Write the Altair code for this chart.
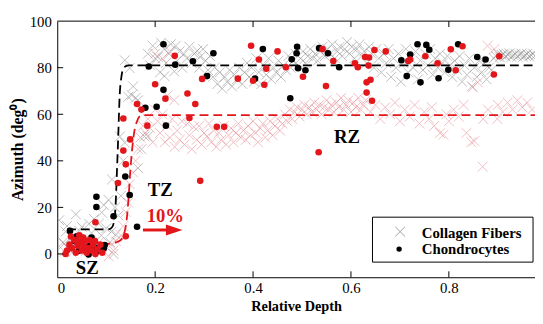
import altair as alt
import pandas as pd

FONT = "Liberation Serif"
RED = "#e3161b"
GRAY = "#8c8c8c"
PINK = "#e0707c"
CROSS = "M-1,-1L1,1M-1,1L1,-1"

# ---------------- data ----------------
# Collagen fibers, group 1 (gray crosses)
gray_x = [0.004, 0.012, 0.014, 0.017, 0.02, 0.025, 0.03, 0.038, 0.045, 0.05, 0.055, 0.058,
          0.065, 0.07, 0.075, 0.08, 0.085, 0.09, 0.091, 0.1, 0.105, 0.108, 0.111, 0.115,
          0.12, 0.125, 0.118, 0.095,
          0.112, 0.128, 0.138, 0.135, 0.145, 0.152, 0.16, 0.165, 0.148, 0.138, 0.155, 0.165,
          0.172, 0.178, 0.13, 0.185,
          0.185, 0.19, 0.195, 0.2, 0.205, 0.21, 0.212, 0.219, 0.219, 0.222, 0.228, 0.232,
          0.239, 0.242, 0.245, 0.25, 0.255, 0.259, 0.265, 0.27, 0.275, 0.28, 0.286, 0.29,
          0.292, 0.298, 0.303, 0.308, 0.312, 0.318, 0.322, 0.327, 0.332, 0.337, 0.342, 0.347,
          0.352, 0.357, 0.362, 0.367, 0.372, 0.378, 0.383, 0.388, 0.392, 0.397, 0.402, 0.407,
          0.412, 0.417, 0.422, 0.427, 0.432, 0.437, 0.442, 0.447, 0.452, 0.457, 0.462, 0.467,
          0.472, 0.477, 0.482, 0.487, 0.492, 0.497, 0.502, 0.507, 0.512, 0.517, 0.522, 0.527,
          0.532, 0.537, 0.542, 0.547, 0.552, 0.557, 0.562, 0.567, 0.572, 0.577, 0.582, 0.587,
          0.592, 0.597, 0.602, 0.607, 0.612, 0.617, 0.622, 0.627, 0.632, 0.637, 0.642, 0.647,
          0.652, 0.657, 0.662, 0.667, 0.672, 0.677, 0.682, 0.687, 0.692, 0.697, 0.702, 0.707,
          0.712, 0.717, 0.722, 0.727, 0.732, 0.737, 0.742, 0.747, 0.752, 0.757, 0.762, 0.767,
          0.772, 0.777, 0.782, 0.787, 0.792, 0.797, 0.802, 0.807, 0.812, 0.817, 0.822, 0.827,
          0.832, 0.837, 0.842, 0.847, 0.852, 0.857, 0.862, 0.867, 0.872, 0.877, 0.882, 0.887,
          0.892, 0.896, 0.9, 0.904, 0.908, 0.912, 0.916, 0.92, 0.924, 0.928, 0.932, 0.936,
          0.94, 0.944, 0.948, 0.952, 0.956, 0.96, 0.964, 0.968, 0.972, 0.976]
gray_y = [14.5, 5, 4.3, 9.6, 12, 2, 7, 17, 10, 11.7, 6, 1.4,
          13, 9, 15, 3, 13, 8, 17.8, 11, 23.2, 5, 9.6, 0,
          8.4, 16.5, 20, 21,
          32, 50.5, 47.8, 40, 67.5, 68.2, 67, 66, 79.8, 83.2, 72, 36.9,
          45, 50.5, 25, 50.5,
          86, 81, 89.4, 84, 84.6, 78, 90.7, 88, 76.4, 82, 86, 90.1,
          78.4, 89.4, 83, 87, 80, 86, 84, 89, 82, 86, 87.3, 80,
          84.6, 88, 83, 79, 85, 76, 80, 73, 78, 71, 76, 74,
          79, 72, 77, 75, 80, 73, 78, 82, 76, 80, 74, 84,
          78, 73, 81, 77, 84, 75, 80, 78, 83, 76, 81, 79,
          85, 80, 83, 86, 81, 84, 87, 82, 85, 88, 84, 86,
          83, 87, 89, 85, 88, 86, 90, 84, 87, 89, 85, 88,
          91, 86, 89, 84, 88, 90, 85, 87, 82, 89, 86, 80,
          88, 84, 78, 86, 82, 88, 76, 84, 80, 86, 74, 82,
          88, 78, 84, 80, 87, 75, 83, 79, 86, 81, 88, 77,
          84, 80, 86, 82, 78, 85, 81, 76, 83, 79, 85, 74,
          81, 77, 84, 72, 80, 76, 83, 78, 82, 75, 80, 79,
          84, 85, 86, 84.5, 85.5, 86, 84.8, 85.6, 86.2, 84.6, 85.4, 86,
          84.8, 85.5, 86.1, 84.7, 85.3, 85.9, 84.9, 85.4, 86, 85]

# Collagen fibers, group 2 (light red crosses)
pink_x = [0.015, 0.02, 0.03, 0.035, 0.045, 0.05, 0.06, 0.065, 0.07, 0.075, 0.085, 0.09,
          0.1, 0.105, 0.11, 0.115, 0.12,
          0.13, 0.135, 0.14, 0.145, 0.148, 0.155, 0.16, 0.165, 0.17, 0.175, 0.18, 0.185,
          0.19, 0.2, 0.195, 0.2, 0.215, 0.23, 0.225, 0.239,
          0.205, 0.21, 0.215, 0.22, 0.225, 0.23, 0.235, 0.24, 0.245, 0.25, 0.255, 0.26,
          0.266, 0.27, 0.275, 0.279, 0.285, 0.29, 0.295, 0.3, 0.306, 0.31, 0.315, 0.32,
          0.325, 0.33, 0.335, 0.34, 0.345, 0.35, 0.355, 0.36, 0.365, 0.37, 0.375, 0.38,
          0.385, 0.39, 0.395, 0.4, 0.405, 0.41, 0.415, 0.42, 0.425, 0.43, 0.435, 0.44,
          0.445, 0.45, 0.455, 0.46, 0.465, 0.47, 0.475, 0.48, 0.485, 0.49, 0.495, 0.5,
          0.505, 0.51, 0.515, 0.52, 0.525, 0.53, 0.535, 0.54, 0.545, 0.55, 0.555, 0.56,
          0.565, 0.57, 0.575, 0.58, 0.585, 0.59, 0.595, 0.6, 0.605, 0.61, 0.615, 0.62,
          0.625, 0.63, 0.64, 0.65, 0.66, 0.67, 0.68, 0.69, 0.7, 0.71, 0.72, 0.73,
          0.74, 0.75, 0.76, 0.765, 0.77, 0.782, 0.789, 0.795, 0.8, 0.81, 0.82, 0.83,
          0.836, 0.846, 0.852, 0.849, 0.859, 0.869, 0.87, 0.879, 0.88, 0.893, 0.899, 0.9,
          0.91, 0.92, 0.93, 0.94, 0.95, 0.96, 0.97]
pink_y = [1, 3, 0.5, 4, 2, 5, 1.5, 3.5, 0, 2.5, 5, 1,
          3, -1, 4, 1.5, 5.5,
          8, 12, 18, 22, 30, 35, 40, 45, 50, 55, 52, 58,
          54, 62, 48, 86, 84, 87, 68, 66,
          57, 52, 60, 48, 55, 50, 58, 46, 53, 49, 57, 47,
          56, 51, 45, 54.6, 49, 55, 47, 51.9, 50.5, 56, 48, 53,
          46, 52, 49, 55, 47, 51, 54, 48, 52, 56, 50, 53,
          49, 55, 51, 57, 52, 48, 54, 56, 50, 53, 57, 51,
          55, 58, 53, 56, 60, 57, 62, 58, 61, 63, 59, 62,
          64, 60, 63, 61, 65, 62, 64, 60, 63, 66, 62, 64,
          61, 65, 63, 67, 62, 64, 66, 61, 65, 63, 67, 62,
          64, 66, 61, 64, 58, 63, 60, 65, 57, 62, 59, 64,
          56, 61, 58, 63, 55, 51.9, 51.2, 60, 57, 62, 59, 64,
          52, 48, 48.5, 71.6, 73.7, 37.5, 58, 89.4, 62, 88, 58, 64,
          61, 65, 62, 66, 63, 65, 62]

# Chondrocytes, group 1 (black dots)
black_x = [0.026, 0.040, 0.066, 0.078, 0.097, 0.095, 0.084, 0.064, 0.044, 0.070, 0.036, 0.073,
           0.080, 0.080, 0.115, 0.163, 0.148, 0.139,
           0.217, 0.319, 0.187, 0.241, 0.277, 0.306, 0.217, 0.180, 0.203, 0.222,
           0.420, 0.490, 0.489, 0.479, 0.535, 0.553, 0.492, 0.507, 0.576, 0.404, 0.476,
           0.736, 0.754, 0.760, 0.819, 0.721, 0.703, 0.858, 0.875, 0.799, 0.714, 0.742, 0.779]
black_y = [9.9, 7.6, 4.4, 2.5, 3.8, 2.4, 1.4, -0.2, 1.4, 7.0, 5.5, 3.9,
           24.6, 20.2, 16.2, 11.7, 25.3, 33.3,
           90.1, 86.2, 80.5, 81.3, 82.8, 76.4, 70.5, 62.8, 63.2, 55.1,
           88.0, 89.0, 86.2, 83.6, 88.4, 86.2, 79.8, 78.9, 80.2, 75.3, 66.9,
           90.1, 89.8, 87.7, 90.1, 85.7, 83.2, 84.6, 83.5, 79.1, 76.4, 73.7, 75.5]

# Chondrocytes, group 2 (red dots)
red_x = [0.017, 0.078, 0.02, 0.025, 0.03, 0.035, 0.038, 0.042, 0.045, 0.048, 0.05, 0.053,
         0.055, 0.058, 0.06, 0.062, 0.066, 0.07, 0.073, 0.077, 0.082, 0.088, 0.092, 0.028, 0.04,
         0.078, 0.14, 0.124, 0.14, 0.135, 0.149, 0.135, 0.163, 0.172, 0.184,
         0.240, 0.296, 0.200, 0.221, 0.266, 0.282, 0.270, 0.326, 0.341, 0.292,
         0.396, 0.450, 0.412, 0.427, 0.467, 0.542, 0.564, 0.369, 0.400, 0.423, 0.502, 0.549,
         0.534, 0.608, 0.614, 0.629, 0.637, 0.636, 0.640, 0.632, 0.632, 0.643, 0.648, 0.671,
         0.717, 0.721, 0.752, 0.777, 0.804, 0.828, 0.814, 0.903, 0.892]
red_y = [0, 0, 1.5, 4, 2.5, 6, 0.5, 3.5, 8, 5, 1.5, 7,
         3, 5.5, 0.5, 2.5, 6, 1.5, 4, 5.5, 2, 4, 0.5, 7.5, 5.5,
         13.6, 7.6, 30.5, 38.5, 44.4, 49.2, 58.2, 64.4, 62.0, 55.1,
         85.1, 75.2, 72.9, 66.7, 68.9, 64.4, 58.4, 54.6, 54.6, 31.4,
         89.4, 87.0, 83.5, 79.6, 80.2, 88.0, 82.9, 75.3, 74.4, 72.7, 76.1, 72.1,
         43.7, 81.9, 80.2, 84.6, 84.4, 80.9, 74.8, 73.7, 69.3, 65.8, 87.6, 87.0,
         82.9, 83.5, 84.9, 81.9, 87.9, 89.2, 78.9, 84.9, 77.1]

# fitted step curves (dashed)
black_fit_x = [0.02, 0.105, 0.112, 0.116, 0.119, 0.1215, 0.1245, 0.1275, 0.131, 0.136, 0.145, 0.976]
black_fit_y = [10.6, 10.6, 11.5, 14, 20, 33, 50, 68, 76, 80, 81, 81]
red_fit_x = [0.09, 0.12, 0.13, 0.137, 0.142, 0.146, 0.149, 0.153, 0.157, 0.163, 0.172, 0.976]
red_fit_y = [4, 5, 6, 9, 15, 25, 35, 45, 52, 57, 59.6, 59.6]

x_ticks = [0, 0.2, 0.4, 0.6, 0.8]
y_ticks = [0, 20, 40, 60, 80, 100]
legend_labels = ["Collagen Fibers", "Chondrocytes"]
zone_labels = ["SZ", "TZ", "RZ"]
shift_label = "10%"

# ---------------- chart ----------------
W, H = 485, 260
xs = alt.Scale(domain=[0, 0.976], nice=False, zero=False)
ys = alt.Scale(domain=[-10, 100], nice=False, zero=False)
xaxis = alt.Axis(values=x_ticks, format="~g", title="Relative Depth", ticks=False, tickSize=0,
                 labelPadding=3, titleY=33.5, titleBaseline="alphabetic", grid=False,
                 domainColor="black", domainWidth=1,
                 labelFont=FONT, labelFontSize=15, labelColor="black",
                 titleFont=FONT, titleFontSize=14.5, titleFontWeight="bold", titleColor="black")
yaxis = alt.Axis(values=y_ticks, format="d", title="Azimuth (deg⁰)", ticks=False, tickSize=0,
                 labelPadding=6, titlePadding=4, grid=False, domainColor="black", domainWidth=1,
                 labelFont=FONT, labelFontSize=15, labelColor="black",
                 titleFont=FONT, titleFontSize=16, titleFontWeight="bold", titleColor="black")


def X(f):
    return alt.X(f, scale=xs, axis=xaxis)


def Y(f):
    return alt.Y(f, scale=ys, axis=yaxis)


gray_df = pd.DataFrame({"x": gray_x, "y": gray_y})
pink_df = pd.DataFrame({"x": pink_x, "y": pink_y})
black_df = pd.DataFrame({"x": black_x, "y": black_y})
red_df = pd.DataFrame({"x": red_x, "y": red_y})
bfit = pd.DataFrame({"x": black_fit_x, "y": black_fit_y, "i": range(len(black_fit_x))})
rfit = pd.DataFrame({"x": red_fit_x, "y": red_fit_y, "i": range(len(red_fit_x))})

gray = alt.Chart(gray_df).mark_point(shape=CROSS, filled=False, size=100, strokeWidth=1,
                                     color=GRAY, opacity=0.55, clip=True).encode(x=X("x:Q"), y=Y("y:Q"))
pink = alt.Chart(pink_df).mark_point(shape=CROSS, filled=False, size=100, strokeWidth=1,
                                     color=PINK, opacity=0.45, clip=True).encode(x=X("x:Q"), y=Y("y:Q"))
bline = alt.Chart(bfit).mark_line(color="black", strokeWidth=1.8, strokeDash=[9, 5],
                                  interpolate="monotone").encode(x=X("x:Q"), y=Y("y:Q"), order="i:Q")
rline = alt.Chart(rfit).mark_line(color=RED, strokeWidth=1.8, strokeDash=[9, 5],
                                  interpolate="monotone").encode(x=X("x:Q"), y=Y("y:Q"), order="i:Q")
bdots = alt.Chart(black_df).mark_circle(size=45, color="black", opacity=1, clip=True).encode(
    x=X("x:Q"), y=Y("y:Q"))
rdots = alt.Chart(red_df).mark_circle(size=45, color=RED, opacity=1, clip=True).encode(
    x=X("x:Q"), y=Y("y:Q"))

# frame: top border and inward ticks
xt = pd.DataFrame({"v": x_ticks[1:]})
yt = pd.DataFrame({"v": y_ticks[:-1]})
one = pd.DataFrame({"v": [0]})
top_line = alt.Chart(one).mark_rule(color="black", strokeWidth=1).encode(
    x=alt.value(0), x2=alt.value(W), y=alt.value(0))
xt_bottom = alt.Chart(xt).mark_rule(color="black", strokeWidth=1).encode(
    x=X("v:Q"), y=alt.value(H - 6), y2=alt.value(H))
xt_top = alt.Chart(xt).mark_rule(color="black", strokeWidth=1).encode(
    x=X("v:Q"), y=alt.value(0), y2=alt.value(6))
yt_left = alt.Chart(yt).mark_rule(color="black", strokeWidth=1).encode(
    y=Y("v:Q"), x=alt.value(0), x2=alt.value(6))


def label(text, dx, dy, size=19, color="black", align="center"):
    return alt.Chart(pd.DataFrame({"t": [text]})).mark_text(
        font=FONT, fontSize=size, fontWeight="bold", color=color, align=align,
        baseline="alphabetic").encode(x=alt.datum(dx, scale=xs), y=alt.datum(dy, scale=ys), text="t:N")


sz = label(zone_labels[0], 0.0614, -8.8)
tz = label(zone_labels[1], 0.2103, 24.9)
rz = label(zone_labels[2], 0.5917, 47.5)
pct = label(shift_label, 0.2208, 13.7, color=RED)

arrow_line = alt.Chart(one).mark_rule(color=RED, strokeWidth=3).encode(
    x=alt.datum(0.1751, scale=xs), x2=alt.datum(0.2284), y=alt.datum(10.3, scale=ys))
arrow_head = alt.Chart(one).mark_point(
    shape="M-1,-0.68L1,0L-1,0.68Z", size=279, filled=True, color=RED, opacity=1).encode(
    x=alt.datum(0.2389, scale=xs), y=alt.datum(10.3, scale=ys))

# legend
leg_box = alt.Chart(one).mark_rect(fill="white", stroke="black", strokeWidth=1).encode(
    x=alt.datum(0.644, scale=xs), x2=alt.datum(0.972), y=alt.datum(15.8, scale=ys), y2=alt.datum(-3.5))
leg_cross = alt.Chart(one).mark_point(
    shape=CROSS, filled=False, size=100, strokeWidth=1, color="#a0a0a0", opacity=1).encode(
    x=alt.datum(0.7004, scale=xs), y=alt.datum(9.6, scale=ys))
leg_dot = alt.Chart(one).mark_circle(size=30, color="black", opacity=1).encode(
    x=alt.datum(0.6984, scale=xs), y=alt.datum(2.1, scale=ys))

leg1 = label(legend_labels[0], 0.7447, 6.9, size=15, align="left")
leg2 = label(legend_labels[1], 0.7447, -0.2, size=15, align="left")

chart = alt.layer(
    gray, pink, bline, rline, bdots, rdots,
    top_line, xt_bottom, xt_top, yt_left,
    sz, tz, rz, pct, arrow_line, arrow_head,
    leg_box, leg_cross, leg_dot, leg1, leg2,
).properties(
    width=W, height=H,
    padding={"left": 50, "top": 11, "right": 0, "bottom": 37},
    autosize=alt.AutoSizeParams(type="none"),
    background="white",
).configure_view(strokeWidth=0)

chart.save("out.html", embed_options={"renderer": "svg", "actions": False})
